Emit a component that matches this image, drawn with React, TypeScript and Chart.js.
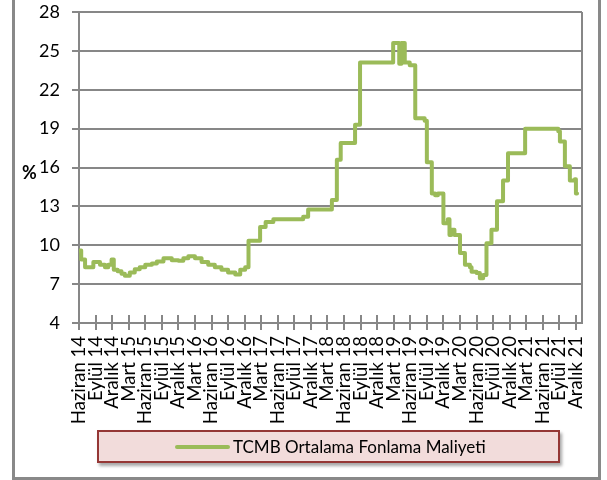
import React, { useEffect, useRef } from "react";
import { Chart, registerables } from "chart.js";

Chart.register(...registerables);

// Quarterly tick labels (every 3 months from June 2014)
const tickLabels = [
  "Haziran 14", "Eylül 14", "Aralık 14",
  "Mart 15", "Haziran 15", "Eylül 15", "Aralık 15",
  "Mart 16", "Haziran 16", "Eylül 16", "Aralık 16",
  "Mart 17", "Haziran 17", "Eylül 17", "Aralık 17",
  "Mart 18", "Haziran 18", "Eylül 18", "Aralık 18",
  "Mart 19", "Haziran 19", "Eylül 19", "Aralık 19",
  "Mart 20", "Haziran 20", "Eylül 20", "Aralık 20",
  "Mart 21", "Haziran 21", "Eylül 21", "Aralık 21",
];

// Time of each level change, in months since June 2014
const months = [
  0.0, 0.4, 1.1, 2.6, 3.8, 4.7, 5.3, 5.9, 6.3, 7.0, 7.7, 8.3, 9.2, 10.1, 11.0,
  12.0, 13.2, 14.1, 15.3, 16.8, 18.0, 18.9, 19.8, 21.0, 22.2, 23.4, 24.6, 25.8,
  27.0, 28.3, 29.2, 30.1, 30.7, 32.8, 33.8, 35.2, 40.6, 41.5, 45.8, 46.7, 47.4,
  50.0, 50.9, 56.9, 58.0, 58.4, 59.0, 59.9, 60.9, 62.6, 63.0, 63.9, 64.5, 65.0,
  66.0, 66.8, 67.1, 67.4, 68.0, 69.0, 69.9, 70.8, 71.1, 72.0, 72.6, 73.2, 73.8,
  74.7, 75.7, 76.8, 77.7, 80.8, 86.2, 86.8, 87.1, 88.0, 88.9, 89.8, 90.0, 90.2,
];

// TCMB average funding cost (%)
const values = [
  9.6, 8.9, 8.3, 8.7, 8.5, 8.3, 8.5, 8.9, 8.1, 8.0, 7.8, 7.65, 7.9, 8.15, 8.3,
  8.5, 8.6, 8.75, 9.0, 8.85, 8.8, 9.0, 9.15, 9.0, 8.7, 8.5, 8.3, 8.1,
  7.9, 7.75, 8.1, 8.3, 10.35, 11.4, 11.8, 12.0, 12.2, 12.75, 13.5, 16.6, 17.9,
  19.3, 24.1, 25.6, 24.0, 25.6, 24.1, 23.9, 19.8, 19.6, 16.4, 14.0, 13.85, 14.0,
  11.7, 12.0, 10.8, 11.2, 10.8, 9.4, 8.5, 8.3, 7.95, 7.85, 7.45, 7.7, 10.15,
  11.2, 13.4, 15.0, 17.1, 19.0, 19.0, 18.8, 18.0, 16.1, 15.0, 15.1, 14.0, 14.0,
];

const seriesName = "TCMB Ortalama Fonlama Maliyeti";

const GRAY = "#878787";
const GREEN = "#9bbb59";
const FONT = "Lato, 'Liberation Sans', sans-serif";

const extras = {
  id: "extras",
  beforeDatasetsDraw(chart: any) {
    const { ctx, chartArea, scales } = chart;
    ctx.save();
    ctx.strokeStyle = GRAY;
    ctx.lineWidth = 2;
    ctx.beginPath();
    ctx.moveTo(chartArea.right, chartArea.top);
    ctx.lineTo(chartArea.right, chartArea.bottom);
    for (const t of scales.x.ticks) {
      const px = Math.round(scales.x.getPixelForValue(t.value));
      ctx.moveTo(px, chartArea.bottom);
      ctx.lineTo(px, chartArea.bottom - 8);
    }
    ctx.stroke();
    ctx.restore();
  },
};

export default function App() {
  const canvasRef = useRef<HTMLCanvasElement | null>(null);

  useEffect(() => {
    if (!canvasRef.current) return;
    const chart = new Chart(canvasRef.current, {
      type: "line",
      data: {
        datasets: [
          {
            label: seriesName,
            data: months.map((m, i) => ({ x: m, y: values[i] })),
            borderColor: GREEN,
            backgroundColor: GREEN,
            borderWidth: 4,
            pointRadius: 0,
            stepped: true,
            fill: false,
            borderCapStyle: "round",
            borderJoinStyle: "round",
          } as any,
        ],
      },
      options: {
        responsive: false,
        animation: false,
        layout: { padding: { top: 12, right: 25, left: 0, bottom: 0 } },
        plugins: {
          legend: { display: false },
          tooltip: { enabled: false },
        },
        scales: {
          x: {
            type: "linear",
            min: 0,
            max: 91.1,
            afterBuildTicks: (s: any) => {
              s.ticks = tickLabels.map((_, i) => ({ value: i * 3 }));
            },
            afterFit: (s: any) => {
              s.height = 157;
              s.paddingLeft = 0;
              s.paddingRight = 0;
            },
            ticks: {
              autoSkip: false,
              minRotation: 90,
              maxRotation: 90,
              padding: 6,
              color: "#000",
              font: { family: FONT, size: 18.5 },
              callback: (_v: any, i: number) => tickLabels[i],
            },
            grid: {
              drawOnChartArea: false,
              drawTicks: true,
              tickLength: 7,
              color: GRAY,
              lineWidth: 2,
            },
            border: { color: GRAY, width: 2 },
          },
          y: {
            min: 4,
            max: 28,
            afterFit: (s: any) => {
              s.width = 79;
              s.paddingTop = 0;
              s.paddingBottom = 0;
            },
            ticks: {
              stepSize: 3,
              padding: 12,
              color: "#000",
              font: { family: FONT, size: 18 },
            },
            grid: {
              color: GRAY,
              lineWidth: 2,
              tickLength: 7,
            },
            border: { color: GRAY, width: 2 },
          },
        },
      },
      plugins: [extras],
    } as any);
    return () => chart.destroy();
  }, []);

  return (
    <div style={{ position: "absolute", left: 0, top: 0, width: 607, height: 480, overflow: "hidden", background: "#fff" }}>
      <div
        style={{
          position: "absolute",
          left: 12,
          top: -10,
          width: 589,
          height: 490,
          border: "3px solid #898989",
          boxSizing: "border-box",
        }}
      />
      <canvas ref={canvasRef} width={607} height={480} style={{ position: "absolute", left: 0, top: 0 }} />
      <span
        style={{
          position: "absolute",
          left: 22,
          top: 161,
          fontFamily: FONT,
          fontWeight: "bold",
          fontSize: 18,
          color: "#000",
        }}
      >
        %
      </span>
      <div
        style={{
          position: "absolute",
          left: 97,
          top: 430,
          width: 463,
          height: 33,
          boxSizing: "border-box",
          background: "#f2dcdb",
          border: "2px solid #953735",
          boxShadow: "2px 3px 3px rgba(0,0,0,0.35)",
          display: "flex",
          alignItems: "center",
        }}
      >
        <div
          style={{
            marginLeft: 76,
            width: 55,
            height: 4,
            borderRadius: 2,
            background: GREEN,
          }}
        />
        <span
          style={{
            marginLeft: 3,
            fontFamily: FONT,
            fontSize: 17,
            color: "#000",
            whiteSpace: "nowrap",
          }}
        >
          {seriesName}
        </span>
      </div>
    </div>
  );
}
